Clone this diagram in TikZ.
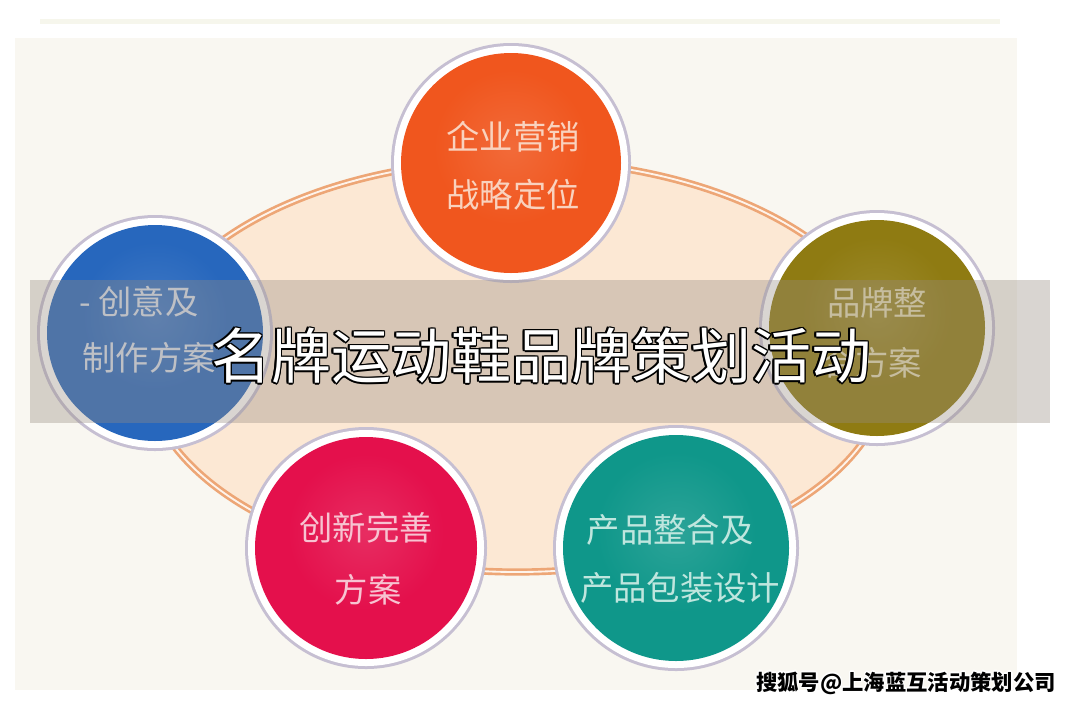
\documentclass[tikz,border=0pt]{standalone}
\usepackage{fontspec}
\setmainfont{Noto Sans CJK SC}
\definecolor{panelc}{HTML}{F9F7F1}
\definecolor{stripc}{HTML}{F6F6EC}
\definecolor{ellfill}{HTML}{FCE8D4}
\definecolor{ringc}{HTML}{EDA676}
\definecolor{haloc}{HTML}{C6BFD2}
\definecolor{orangeC}{HTML}{F0561E}
\definecolor{blueC}{HTML}{2767BD}
\definecolor{oliveC}{HTML}{8F7B12}
\definecolor{pinkC}{HTML}{E4104C}
\definecolor{tealC}{HTML}{0F978A}
\definecolor{otext}{HTML}{F9D2BE}
\definecolor{btext}{HTML}{D5DEEC}
\definecolor{ltext}{HTML}{E2D9B0}
\definecolor{ptext}{HTML}{F7C3D1}
\definecolor{ttext}{HTML}{BFE6DE}
\definecolor{bandc}{HTML}{968C82}
\newcommand\mybubble[5]{%
  \coordinate (#1) at (#2,#3);
  \fill[haloc] (#1) circle [radius={#4+3}];
  \fill[white] (#1) circle [radius={#4}];
  \fill[#5] (#1) circle [radius={#4-7}];
  \shade[inner color=#5!88!white, outer color=#5] ([yshift=12pt]#1) circle [radius={#4-40}];
}
\tikzset{
  ctext/.style={font=\fontsize{25pt}{30pt}\selectfont, inner sep=0pt, anchor=center},
  titletext/.style={font=\fontsize{45pt}{50pt}\selectfont, inner sep=0pt, anchor=center},
  wmtext/.style={font=\fontsize{16pt}{18pt}\selectfont\bfseries, inner sep=0pt, anchor=center},
  ringline/.style={draw=ringc, line width=2pt, double=ellfill!50!white, double distance=1.4pt}
}
\begin{document}
\begin{tikzpicture}[x=0.75pt,y=-0.75pt]
\useasboundingbox (0,0) rectangle (1080,704);
\fill[white] (0,0) rectangle (1080,704);
\fill[stripc] (40,19) rectangle (1000,24);
\fill[panelc] (15,38) rectangle (1017,690);
% central ellipse
\coordinate (ec) at (517,366);
\fill[ellfill] (ec) ellipse [x radius=372, y radius=206];
\draw[ringline] (ec) ellipse [x radius=372, y radius=206];
% bubbles
\mybubble{ob}{511}{163}{117}{orangeC}
\mybubble{bb}{155}{333}{115}{blueC}
\mybubble{lb}{877}{328}{115}{oliveC}
\mybubble{pb}{366}{548}{118}{pinkC}
\mybubble{tb}{676}{548}{120}{tealC}
% bubble texts
\node[ctext, text=otext] (o1) at (513,137) {企业营销};
\node[ctext, text=otext] (o2) at (513,195) {战略定位};
\node[ctext, text=btext] (b1) at (139,302) {- 创意及};
\node[ctext, text=btext] (b2) at (149,358) {制作方案};
\node[ctext, text=ltext] (l1) at (877,303) {品牌整};
\node[ctext, text=ltext] (l2) at (872,363) {合方案};
\node[ctext, text=ptext] (p1) at (366,528) {创新完善};
\node[ctext, text=ptext] (p2) at (368,590) {方案};
\node[ctext, text=ttext] (t1) at (670,530) {产品整合及};
\node[ctext, text=ttext] (t2) at (680,588) {产品包装设计};
% translucent band
\fill[bandc, opacity=0.36] (30,280) rectangle (1050,423);
% title with outline
\coordinate (tc) at (541,356);
\foreach \dx/\dy [count=\i] in {1.1/0,-1.1/0,0/1.1,0/-1.1,0.8/0.8,-0.8/0.8,0.8/-0.8,-0.8/-0.8}
  \node[titletext, text=black, xshift=\dx pt, yshift=\dy pt] (ts\i) at (tc) {名牌运动鞋品牌策划活动};
\node[titletext, text=white] (title) at (tc) {名牌运动鞋品牌策划活动};
% watermark
\coordinate (wc) at (906,683);
\foreach \dx/\dy [count=\i] in {1/0,-1/0,0/1,0/-1,0.7/0.7,-0.7/0.7,0.7/-0.7,-0.7/-0.7}
  \node[wmtext, text=white, xshift=\dx pt, yshift=\dy pt] (ws\i) at (wc) {搜狐号@上海蓝互活动策划公司};
\node[wmtext, text=black] (wm) at (wc) {搜狐号@上海蓝互活动策划公司};
\end{tikzpicture}
\end{document}
